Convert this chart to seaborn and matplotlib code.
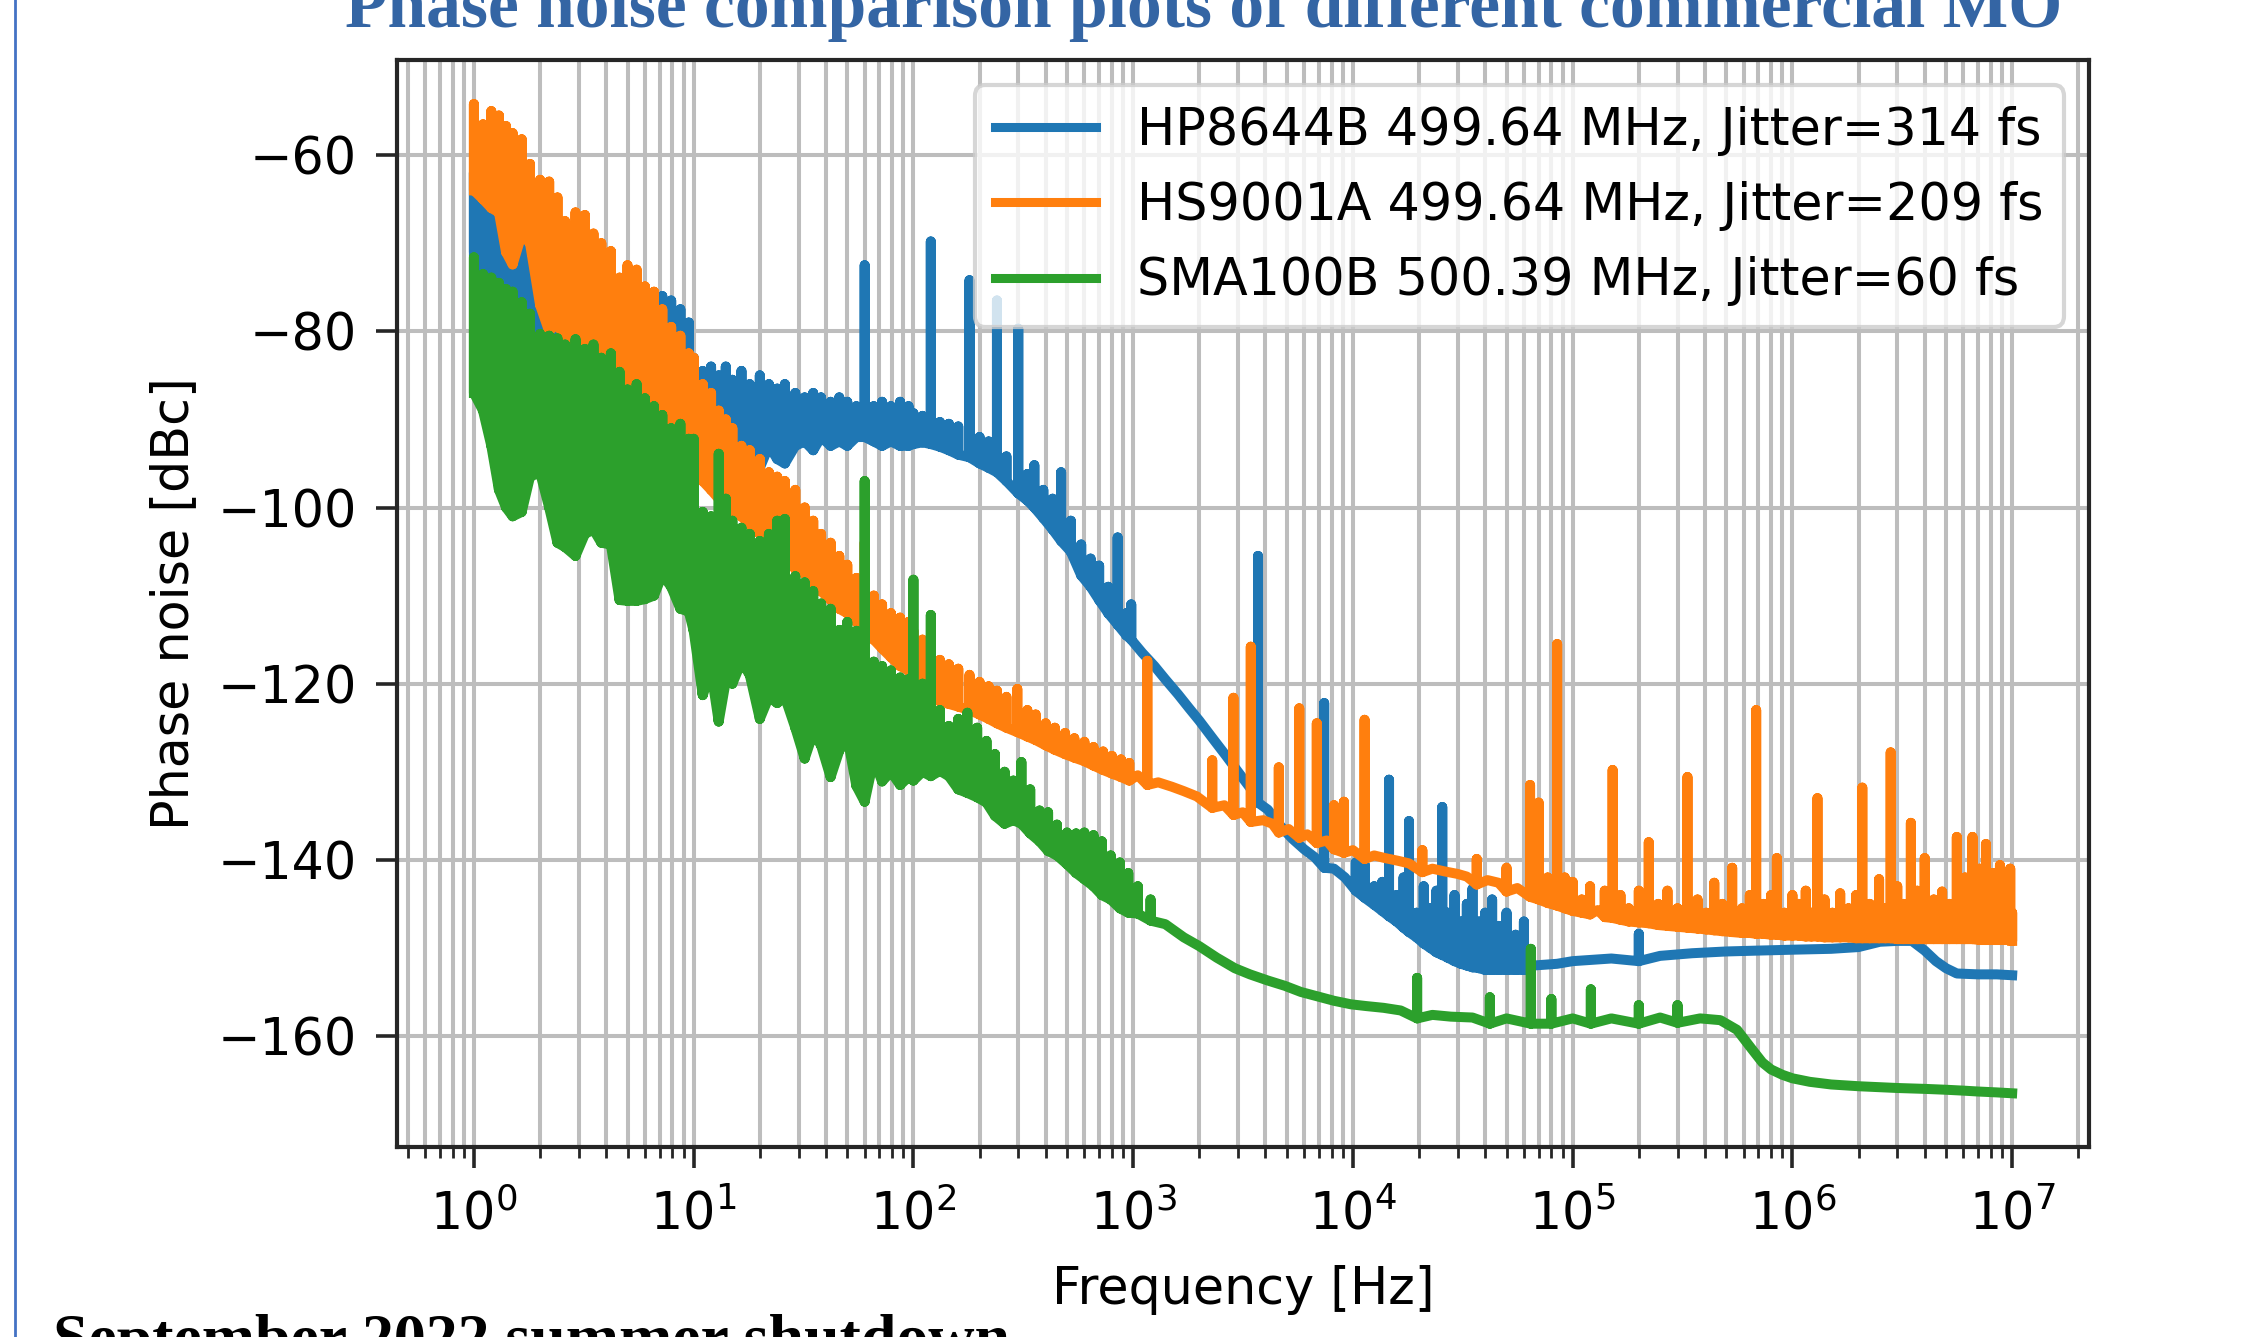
import pandas as pd
import matplotlib
matplotlib.use("Agg")
import matplotlib.pyplot as plt
import seaborn as sns
from matplotlib.lines import Line2D


labels = ["HP8644B 499.64 MHz, Jitter=314 fs",
          "HS9001A 499.64 MHz, Jitter=209 fs",
          "SMA100B 500.39 MHz, Jitter=60 fs"]
colors = ["#1f77b4", "#ff7f0e", "#2ca02c"]

# HP8644B: frequency [Hz], lower / upper edge of the trace [dBc]
hp_freq = [1.0, 1.1, 1.2, 1.3, 1.4, 1.5, 1.65, 1.8, 2.0, 2.2, 2.4, 2.6, 2.9, 3.2, 3.5, 3.8, 4.2, 4.6, 5.0, 5.5, 6.0, 6.6, 7.2, 7.9, 8.7, 9.5,
           10, 11, 12, 13, 14, 15, 16.5, 18, 20, 22, 24, 26, 29, 32, 35, 38, 42, 46, 50, 55, 60, 66, 72, 79, 87, 95,
           100, 110, 120, 132, 145, 160, 180, 200, 220, 240, 265, 300, 330, 355, 390, 430, 470, 520, 580, 640, 700, 770, 850, 930, 980,
           1100, 1250, 1400, 1600, 1800, 2000, 2300, 2650, 3000, 3400, 3700, 4100, 4700, 5300, 6000, 6700, 7400, 8200, 9200,
           10300, 11300, 12500, 13600, 14600, 15800, 17000, 18000, 19500, 21000, 22500, 24000, 25500, 27000, 29000, 31000,
           33000, 35000, 37500, 40000, 43000, 46000, 50000, 55000, 60000, 66000, 75000, 85000,
           100e3, 150e3, 200e3, 250e3, 350e3, 500e3, 700e3, 1e6, 1.5e6, 2e6, 2.5e6, 3e6, 3.5e6, 4e6, 4.5e6, 5e6, 5.6e6, 7e6, 8.5e6, 1e7]
hp_lo = [-71, -76, -78, -79, -80, -82, -81, -83, -84, -85, -84, -86, -86, -87, -88, -88, -89, -90, -90, -91, -91, -93, -106.5, -94, -95, -96,
         -95, -94, -95.5, -93, -95, -94, -96, -94, -95.5, -93, -94.5, -95, -93, -92.5, -93.5, -92, -93, -92.5, -93, -92, -92, -92.5, -93, -92.5, -93, -93,
         -92.8, -92.6, -92.8, -93.1, -93.5, -94, -94.3, -95, -95.5, -96, -97, -98.4, -99.2, -100, -101.2, -102.5, -103.8, -105, -107.7, -109, -110.5, -112, -113.3, -114.5, -115,
         -117, -118.5, -120, -121.7, -123.3, -124.7, -126.7, -128.7, -130.5, -132.3, -133.5, -134.8, -136.7, -138.1, -139.3, -140.2, -140.9, -141.5, -142.5,
         -143.5, -144.3, -145.1, -145.8, -146.4, -147, -147.7, -148.2, -148.8, -149.5, -150, -150.5, -150.8, -151.1, -151.5, -151.8,
         -152, -152.2, -152.3, -152.5, -152.5, -152.5, -152.5, -152.5, -152.5, -152.5, -152.4, -152.3,
         -152, -151.7, -151.5, -151.4, -151.1, -150.9, -150.8, -150.7, -150.6, -150.4, -149.8, -149.7, -149.7, -150.8, -152, -152.8, -153.4, -153.5, -153.5, -153.6]
hp_hi = [-62, -64, -65.5, -67, -69.5, -70, -69.5, -72, -71, -73, -72, -74, -73, -75, -74, -76, -75, -77, -76, -77, -76.5, -76.5, -76, -76.5, -77.5, -79,
         -83, -84.5, -84, -85, -84, -85.5, -84.5, -86, -85, -86, -86.5, -86, -87, -87.5, -87, -87.5, -88, -87.5, -88, -88.5, -72.5, -88.5, -88, -88.5, -88, -88.5,
         -89.3, -89.6, -69.8, -90.3, -90.5, -90.8, -74.2, -92, -92.5, -76.5, -94.2, -79.7, -96.2, -95.2, -98, -99, -96, -101.5, -104.2, -105.8, -106.6, -109, -103.4, -112, -111,
         -116, -117.5, -119, -120.7, -122.3, -123.7, -125.7, -127.7, -129.5, -131.3, -105.5, -133.8, -135.7, -137.1, -138.3, -139.2, -122.2, -140.5, -141.5,
         -140.3, -140.5, -143, -142.5, -130.9, -144, -142, -135.6, -146, -143, -145.5, -143.5, -134, -146, -144, -147,
         -145, -143.3, -147, -146, -144.5, -147.5, -146, -148.5, -147, -151.5, -151.4, -151.3,
         -151, -150.7, -148.4, -150.4, -150.1, -149.9, -149.8, -149.7, -149.6, -149.4, -148.8, -148.7, -148.7, -149.8, -151, -151.8, -152.4, -152.5, -152.5, -152.6]

# HS9001A
hs_freq = [1.0, 1.1, 1.2, 1.3, 1.4, 1.5, 1.65, 1.8, 2.0, 2.2, 2.4, 2.6, 2.9, 3.2, 3.5, 3.8, 4.2, 4.6, 5.0, 5.5, 6.0, 6.6, 7.2, 7.9, 8.7, 9.5,
           10, 11, 12, 13, 14, 15, 16.5, 18, 20, 22, 24, 26, 29, 32, 35, 38, 42, 46, 50, 55, 60, 66, 72, 79, 87, 95,
           100, 110, 120, 132, 145, 160, 180, 200, 220, 240, 265, 297, 330, 360, 400, 440, 490, 540, 600, 660, 730, 800, 880, 960,
           1050, 1160, 1300, 1500, 1700, 1950, 2290, 2600, 2860, 3150, 3430, 3900, 4300, 4600, 5100, 5700, 6200, 6850, 7600, 8200, 9100,
           10000, 11300, 12500, 14000, 16000, 18000, 20700, 23000, 26000, 30000, 33000, 36600, 41000, 46000, 50000, 56000, 64000, 70000, 77000, 85000, 92000,
           100e3, 110e3, 120e3, 130e3, 140e3, 152e3, 165e3, 180e3, 200e3, 222e3, 245e3, 270e3, 300e3, 333e3, 370e3, 405e3, 441e3, 480e3, 532e3, 590e3,
           640e3, 684e3, 740e3, 800e3, 850e3, 920e3, 1.0e6, 1.07e6, 1.15e6, 1.22e6, 1.3e6, 1.4e6, 1.52e6, 1.65e6, 1.8e6, 1.95e6, 2.08e6, 2.25e6, 2.48e6, 2.65e6,
           2.8e6, 3.0e6, 3.2e6, 3.46e6, 3.7e6, 4.0e6, 4.4e6, 4.8e6, 5.2e6, 5.6e6, 6.1e6, 6.6e6, 7.1e6, 7.6e6, 8.2e6, 8.8e6, 9.3e6, 9.8e6, 1e7]
hs_lo = [-64, -65, -66, -66.5, -71, -72.4, -69, -70, -77, -80, -79, -81, -82, -83, -82, -84, -86, -85, -87, -88, -89, -91, -90, -92, -93, -96,
         -96, -97, -98, -99, -99.5, -100.5, -101, -102, -103, -104, -105, -105.5, -107, -107.5, -108.5, -109.5, -110.5, -111.5, -112, -113, -114, -115, -116, -117, -118, -118.5,
         -119, -120.5, -121.5, -122, -122.3, -122.6, -123, -123.5, -124, -124.5, -125, -125.5, -126, -126.4, -127, -127.5, -128, -128.4, -128.8, -129.3, -129.8, -130.2, -130.6, -131,
         -131.1, -131.5, -131.9, -132.4, -132.9, -133.5, -134.1, -134.5, -134.9, -135.3, -135.7, -136.2, -136.6, -136.9, -137.2, -137.5, -137.8, -138.1, -138.5, -138.8, -139.2,
         -139.6, -139.9, -140.2, -140.5, -140.8, -141.1, -141.4, -141.7, -142, -142.3, -142.6, -142.8, -143, -143.3, -143.6, -143.9, -144.2, -144.5, -144.9, -145.2, -145.5,
         -145.8, -146, -146.2, -146.4, -146.5, -146.6, -146.8, -147, -147.1, -147.2, -147.4, -147.5, -147.6, -147.7, -147.8, -147.9, -148, -148.1, -148.2, -148.3,
         -148.3, -148.4, -148.4, -148.5, -148.5, -148.6, -148.6, -148.6, -148.7, -148.7, -148.7, -148.8, -148.8, -148.8, -148.8, -148.9, -148.9, -148.9, -148.9, -148.9,
         -148.9, -149, -149, -149, -149, -149, -149, -149, -149, -149, -149, -149, -149.1, -149.1, -149.1, -149.1, -149.1, -149.1, -149.2]
hs_hi = [-54.2, -56.5, -55, -55.5, -56.7, -57.5, -58.2, -61, -62.8, -63, -64.8, -67.5, -66.5, -66.8, -68.9, -70, -70.9, -73.9, -72.5, -73, -74.9, -75.5, -77.5, -79.5, -80.5, -82.5,
         -83, -86, -87, -89, -90, -91, -93, -93.5, -94.5, -96, -96.5, -97, -98, -100, -101.5, -103, -104, -105.5, -106.5, -108, -104, -110, -111, -112, -112.5, -113,
         -114, -115, -117, -117.3, -117.8, -118.3, -119, -119.8, -120.3, -120.8, -121.5, -120.6, -123, -123.5, -124.5, -125, -125.6, -126.2, -126.6, -127.2, -127.7, -128.2, -128.6, -129,
         -129.7, -117.4, -130.5, -131, -131.5, -132.1, -128.7, -133.1, -121.6, -133.9, -115.8, -134.8, -135.2, -129.5, -135.8, -122.8, -136.4, -124.5, -137.1, -133.8, -133.4,
         -138.2, -124.1, -138.8, -139.1, -139.4, -139.7, -138.9, -140.3, -140.6, -140.9, -141.2, -139.9, -141.6, -141.9, -140.9, -142.5, -131.5, -133.5, -142, -115.5, -142,
         -142.5, -144.5, -143, -145, -143.5, -129.8, -144, -145.5, -143.5, -138, -145, -143.5, -145.5, -130.6, -144.5, -146, -142.6, -145, -140.9, -145.5,
         -144, -123, -145, -144, -139.8, -146, -144, -145, -143.5, -146, -133, -144.5, -146, -143.8, -145.5, -144, -131.8, -145, -142.2, -145.5,
         -127.8, -143, -145, -135.8, -143.5, -139.8, -144.5, -143.6, -145, -137.4, -142, -137.4, -141, -138.2, -141.5, -140.6, -142, -141, -146]

# SMA100B
sma_freq = [1.0, 1.1, 1.2, 1.3, 1.4, 1.5, 1.65, 1.8, 2.0, 2.2, 2.4, 2.6, 2.9, 3.2, 3.5, 3.8, 4.2, 4.6, 5.0, 5.5, 6.0, 6.6, 7.2, 7.9, 8.7, 9.5,
            10, 11, 12, 13, 14, 15, 16.5, 18, 20, 22, 24, 26, 29, 32, 35, 38, 42, 46, 50, 55, 60, 66, 72, 79, 87, 95,
            100, 110, 120, 132, 145, 160, 176, 195, 215, 235, 260, 285, 310, 340, 375, 410, 450, 500, 550, 600, 660, 720, 790, 870, 950,
            1050, 1200, 1400, 1700, 2000, 2400, 2900, 3400, 4100, 4900, 5800, 6900, 8200, 9800, 11500, 13800, 16500, 19600, 23000, 27900,
            35000, 42000, 50000, 64500, 80000, 100e3, 121e3, 150e3, 200e3, 250e3, 300e3, 380e3, 470e3, 560e3, 650e3, 730e3, 800e3, 900e3,
            1e6, 1.2e6, 1.5e6, 2e6, 3e6, 4e6, 5e6, 6e6, 7e6, 8.5e6, 1e7]
sma_lo = [-87, -89, -93, -98, -100, -101, -100.5, -96.5, -96, -100, -104, -104.5, -105.5, -103, -102.5, -104, -104.2, -110.5, -110.6, -110.6, -110.4, -110, -107.6, -109, -111.5, -111.8,
          -114, -121.3, -118.5, -124.3, -119.7, -120, -117.5, -119, -124, -121.5, -122.2, -121.5, -125, -128.5, -125.6, -127, -130.6, -127.6, -126, -131.6, -133.4, -128.6, -131.1, -130, -131.5, -130.6,
          -131, -130, -130.5, -129.9, -130.5, -132, -132.4, -132.9, -133.5, -135, -135.9, -135.5, -135.9, -137, -137.9, -139, -139.5, -140.5, -141.5, -142.2, -143, -144, -144.5, -145.5, -146,
          -146.1, -146.9, -147.9, -149.4, -150.4, -151.7, -152.9, -153.6, -154.3, -154.9, -155.6, -156.1, -156.6, -157, -157.2, -157.4, -157.7, -158, -158.2, -158.4,
          -158.5, -158.6, -158.6, -158.6, -158.6, -158.6, -158.6, -158.6, -158.6, -158.5, -158.5, -158.6, -158.8, -159.9, -162, -163.6, -164.4, -165,
          -165.4, -165.8, -166.1, -166.3, -166.5, -166.6, -166.7, -166.8, -166.9, -167, -167.1]
sma_hi = [-71.6, -73.5, -73.9, -74.5, -75.2, -75.5, -76.7, -78, -80.3, -80.5, -80.8, -81.5, -80.9, -82, -81.5, -83, -82.5, -84.6, -86.6, -86, -87.6, -88.5, -89.5, -91, -90.5, -92.2,
          -92.2, -100.5, -101, -93.9, -99, -101.5, -102.3, -103, -103.8, -103, -101.5, -101.3, -107.8, -108.5, -109.5, -110.9, -111.5, -113.9, -113, -114, -97, -117.5, -118, -118.5, -119.3, -119.5,
          -108.2, -120, -112.2, -123, -124.8, -124, -123.3, -125, -126.5, -128, -130, -131, -128.9, -132, -134.4, -134.6, -136, -136.9, -137, -136.9, -137.2, -137.9, -139.5, -140.3, -141.5,
          -143, -144.5, -146.7, -148.2, -149.2, -150.5, -151.7, -152.4, -153.1, -153.7, -154.4, -154.9, -155.4, -155.8, -156, -156.2, -156.5, -153.4, -157, -157.2,
          -157.3, -155.6, -157.4, -150.1, -155.8, -157.4, -154.7, -157.4, -156.5, -157.3, -156.5, -157.4, -157.6, -158.7, -160.8, -162.4, -163.2, -163.8,
          -164.2, -164.6, -164.9, -165.1, -165.3, -165.4, -165.5, -165.6, -165.7, -165.8, -165.9]


def trace(freq, lo, hi):
    # each sample rises from the floor to the top of the noise and drops back;
    # nearly flat samples become one point in the middle of the trace
    pts = []
    for f, a, b in zip(freq, lo, hi):
        if b - a < 1.5:
            pts.append((f, (a + b) / 2))
        else:
            pts += [(f, a), (f, b), (f, a)]
    return pd.DataFrame(pts, columns=["freq", "dB"])


series = [(hp_freq, hp_lo, hp_hi), (hs_freq, hs_lo, hs_hi), (sma_freq, sma_lo, sma_hi)]

fs = 36.5
plt.rcParams["font.family"] = "DejaVu Sans"
plt.rcParams["path.simplify"] = False

fig = plt.figure(figsize=(22.48, 13.37), dpi=100)
ax = fig.add_axes([0.1766, 0.1421, 0.7527, 0.8130])

for (freq, lo, hi), color in zip(series, colors):
    sns.lineplot(data=trace(freq, lo, hi), x="freq", y="dB", color=color,
                 sort=False, estimator=None, linewidth=7.2, ax=ax)

ax.set_xscale("log")
ax.set_xlim(10 ** -0.35, 10 ** 7.35)
ax.set_ylim(-172.6, -49.2)
ax.set_yticks([-160, -140, -120, -100, -80, -60])

ax.grid(True, which="both", color="#bdbdbd", linewidth=2.9)
for sp in ax.spines.values():
    sp.set_linewidth(3)
    sp.set_color("#262626")
ax.tick_params(which="major", length=15, width=2.6, color="#262626", labelsize=fs)
ax.tick_params(axis="x", which="major", pad=16)
ax.tick_params(axis="y", which="major", pad=14)
ax.tick_params(which="minor", length=8, width=2.0, color="#262626")

ax.set_xlabel("Frequency [Hz]", fontsize=fs)
ax.set_ylabel("Phase noise [dBc]", fontsize=fs)
ax.xaxis.set_label_coords(0.5, -0.109)
ax.yaxis.set_label_coords(-0.117, 0.5)

handles = [Line2D([], [], color=c, linewidth=6.5) for c in colors]
leg = ax.legend(handles, labels, loc="upper right", fontsize=fs)
leg.get_frame().set_linewidth(3)

fig.text(0.5356, 1 - 27 / 1337, "Phase noise comparison plots of different commercial MO",
         ha="center", va="baseline", fontsize=50, fontweight="bold",
         family="Liberation Serif", color="#3465a4")
fig.text(53 / 2248, 1 - 1358 / 1337, "September 2022 summer shutdown",
         ha="left", va="baseline", fontsize=46, fontweight="bold",
         family="Liberation Serif", color="black")
fig.add_artist(Line2D([15 / 2248, 15 / 2248], [0, 1], transform=fig.transFigure,
                      color="#4472c4", linewidth=2))

fig.savefig("out.png", dpi=100)
